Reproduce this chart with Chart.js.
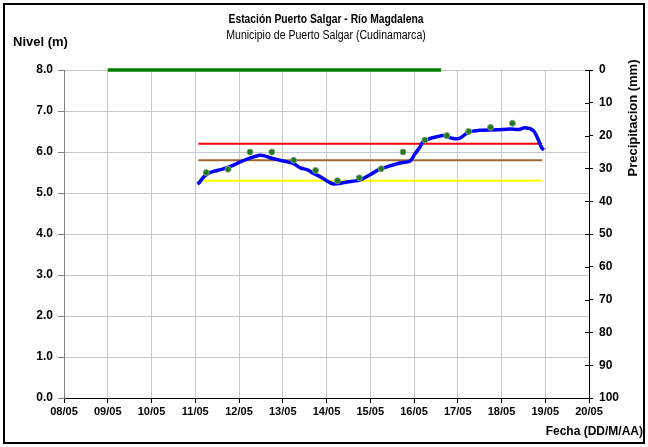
<!DOCTYPE html>
<html>
<head>
<meta charset="utf-8">
<script src="https://cdn.jsdelivr.net/npm/chart.js@4.4.1/dist/chart.umd.min.js"></script>
<style>
  body { margin: 0; background: #fff; }
  canvas { display: block; }
</style>
</head>
<body>
<canvas id="myChart" width="648" height="447"></canvas>
<script>
'use strict'
// data (x = day of May)
let levelDays = [11.05, 11.09, 11.2, 11.34, 11.5, 11.64, 11.85, 12.03, 12.25, 12.48, 12.6, 12.71, 12.94, 13.24, 13.39, 13.58, 13.7, 13.85, 14.0, 14.16, 14.38, 14.55, 14.77, 15.0, 15.22, 15.45, 15.68, 15.91, 16.02, 16.14, 16.21, 16.37, 16.52, 16.67, 16.9, 17.05, 17.24, 17.51, 17.89, 18.19, 18.4, 18.54, 18.73, 18.84, 18.92, 18.97];
let levelValues = [5.22, 5.25, 5.4, 5.5, 5.55, 5.59, 5.67, 5.76, 5.85, 5.92, 5.9, 5.86, 5.8, 5.72, 5.62, 5.56, 5.48, 5.4, 5.3, 5.22, 5.25, 5.28, 5.32, 5.45, 5.58, 5.66, 5.73, 5.78, 5.95, 6.13, 6.25, 6.33, 6.37, 6.4, 6.33, 6.34, 6.48, 6.53, 6.54, 6.56, 6.55, 6.59, 6.52, 6.3, 6.1, 6.05];

let obsDays = [11.25, 11.75, 12.25, 12.75, 13.25, 13.75, 14.25, 14.75, 15.25, 15.75, 16.25, 16.75, 17.25, 17.75, 18.25];
let obsValues = [5.5, 5.58, 6.0, 6.0, 5.8, 5.55, 5.3, 5.37, 5.59, 6.0, 6.29, 6.4, 6.5, 6.6, 6.7];

let precipDays = [9, 10, 11, 12, 13, 14, 15, 16, 16.62];
let precipValues = [0, 0, 0, 0, 0, 0, 0, 0, 0];

let refStart = 11.07;
let refEnd = 18.93;
let redLevel = 6.2;
let brownLevel = 5.8;
let yellowLevel = 5.3;

let dayTicks = [8, 9, 10, 11, 12, 13, 14, 15, 16, 17, 18, 19, 20];

function toPoints(xs, ys) {
  let pts = [];
  for (let i = 0; i < xs.length; i++) {
    pts.push({ x: xs[i], y: ys[i] });
  }
  return pts;
}

function flatLine(v) {
  return [{ x: refStart, y: v }, { x: refEnd, y: v }];
}

const FONT = 'Arial, "Liberation Sans", sans-serif';

// narrow text like the original
function narrowText(ctx, text, x, y, sx) {
  ctx.save();
  ctx.translate(x, y);
  ctx.scale(sx, 1);
  ctx.fillText(text, 0, 0);
  ctx.restore();
}

// texts, outer frame, inner ticks of right axis
const extras = {
  id: 'extras',
  afterDraw(chart) {
    let ctx = chart.ctx;
    ctx.save();
    ctx.strokeStyle = '#000';
    ctx.lineWidth = 2;
    ctx.strokeRect(4, 4, 640, 439);

    let yP = chart.scales.yP;
    ctx.lineWidth = 1;
    ctx.beginPath();
    for (let v = 0; v <= 100; v += 10) {
      let py = Math.round(yP.getPixelForValue(v)) + 0.5;
      ctx.moveTo(yP.left - 4, py);
      ctx.lineTo(yP.left, py);
    }
    ctx.stroke();

    ctx.fillStyle = '#000';
    ctx.textBaseline = 'middle';
    ctx.textAlign = 'center';
    ctx.font = 'bold 12px ' + FONT;
    narrowText(ctx, 'Estación Puerto Salgar - Río Magdalena', 326, 20, 0.86);
    ctx.font = '12px ' + FONT;
    narrowText(ctx, 'Municipio de Puerto Salgar (Cudinamarca)', 326, 36, 0.88);

    ctx.font = 'bold 13px ' + FONT;
    ctx.textAlign = 'left';
    ctx.fillText('Nivel (m)', 13, 42);
    ctx.font = 'bold 12px ' + FONT;
    ctx.textAlign = 'right';
    ctx.fillText('Fecha (DD/M/AA)', 643, 432);

    ctx.font = 'bold 13px ' + FONT;
    ctx.translate(633, 118);
    ctx.rotate(-Math.PI / 2);
    ctx.textAlign = 'center';
    ctx.fillText('Precipitacion (mm)', 0, 0);
    ctx.restore();
  }
};

const ctx = document.getElementById('myChart');

new Chart(ctx, {
  type: 'line',
  data: {
    datasets: [
      {
        label: 'Observado',
        type: 'scatter',
        data: toPoints(obsDays, obsValues),
        yAxisID: 'y',
        pointRadius: 3,
        pointBackgroundColor: '#1f7a1f',
        pointBorderColor: '#7f9f7f',
        pointBorderWidth: 1,
        order: 0
      },
      {
        label: 'Nivel',
        data: toPoints(levelDays, levelValues),
        yAxisID: 'y',
        borderColor: '#0000ff',
        borderWidth: 3.5,
        pointRadius: 0,
        tension: 0.3,
        order: 1
      },
      {
        label: 'Roja',
        data: flatLine(redLevel),
        yAxisID: 'y',
        borderColor: '#ff0000',
        borderWidth: 2,
        pointRadius: 0,
        order: 2
      },
      {
        label: 'Naranja',
        data: flatLine(brownLevel),
        yAxisID: 'y',
        borderColor: '#a0662d',
        borderWidth: 2,
        pointRadius: 0,
        order: 3
      },
      {
        label: 'Amarilla',
        data: flatLine(yellowLevel),
        yAxisID: 'y',
        borderColor: '#ffff00',
        borderWidth: 2,
        pointRadius: 0,
        order: 4
      },
      {
        label: 'Precipitacion',
        data: toPoints(precipDays, precipValues),
        yAxisID: 'yP',
        borderColor: '#008000',
        borderWidth: 3.5,
        pointRadius: 0,
        clip: false,
        order: 0
      }
    ]
  },
  options: {
    responsive: false,
    animation: false,
    layout: { padding: { top: 70, left: 0, right: 0, bottom: 0 } },
    plugins: {
      legend: { display: false },
      tooltip: { enabled: false }
    },
    scales: {
      x: {
        type: 'linear',
        min: 8,
        max: 20,
        afterBuildTicks(scale) {
          scale.ticks = dayTicks.map(v => ({ value: v }));
        },
        afterFit(scale) { scale.height = 49; },
        border: { color: '#000', width: 1 },
        grid: { color: '#c8c8c8', tickColor: '#000', tickLength: 5 },
        ticks: {
          color: '#000',
          padding: 2,
          maxRotation: 0,
          autoSkip: false,
          font: { family: FONT, size: 11, weight: 'bold' },
          callback: v => String(v).padStart(2, '0') + '/05'
        }
      },
      y: {
        position: 'left',
        min: 0,
        max: 8,
        afterFit(scale) { scale.width = 64; },
        border: { color: '#808080', width: 1 },
        grid: { color: '#c8c8c8', tickColor: '#808080', tickLength: 6 },
        ticks: {
          stepSize: 1,
          color: '#000',
          padding: 5,
          font: { family: FONT, size: 12, weight: 'bold' },
          callback: v => v.toFixed(1)
        }
      },
      yP: {
        position: 'right',
        reverse: true,
        min: 0,
        max: 100,
        afterFit(scale) { scale.width = 59; },
        border: { color: '#000', width: 1 },
        grid: { drawOnChartArea: false, tickColor: '#000', tickLength: 4 },
        ticks: {
          stepSize: 10,
          color: '#000',
          padding: 6,
          font: { family: FONT, size: 12, weight: 'bold' }
        }
      }
    }
  },
  plugins: [extras]
});
</script>
</body>
</html>
